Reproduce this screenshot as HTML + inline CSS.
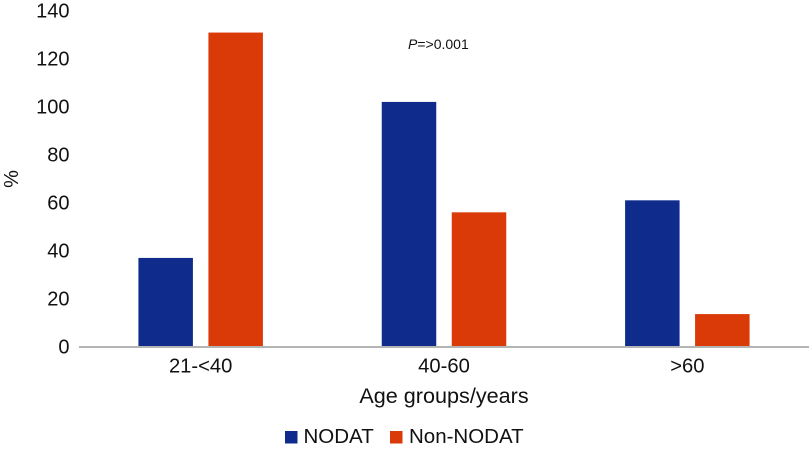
<!DOCTYPE html>
<html lang="en">
<head>
<meta charset="utf-8">
<title>NODAT by age group</title>
<style>
html,body{margin:0;padding:0;background:#fff;width:810px;height:450px;overflow:hidden}
svg{display:block}
text{font-family:"Liberation Sans",Arial,sans-serif;fill:#111}
</style>
</head>
<body>
<svg id="chart" width="810" height="450" viewBox="0 0 810 450" xmlns="http://www.w3.org/2000/svg"></svg>
<script>
const categories = ["21-<40", "40-60", ">60"];
const nodatValues = [36.7, 101.7, 60.7];
const nonNodatValues = [130.6, 55.7, 13.3];
const yTicks = [0, 20, 40, 60, 80, 100, 120, 140];
const seriesNames = ["NODAT", "Non-NODAT"];

const svg = document.getElementById('chart');
const NS = 'http://www.w3.org/2000/svg';
const plotLeft = 79, plotRight = 809, plotBase = 346, plotTop = 10, yMax = 140;
const barWidth = 54.5, barGap = 15.5;
const blue = '#0f2c8c', red = '#d93a07';

function yScale(v) { return plotBase - (v / yMax) * (plotBase - plotTop); }
function xCenter(i) { return plotLeft + (plotRight - plotLeft) * (i + 0.5) / categories.length; }
function make(tag, attrs, text) {
  const el = document.createElementNS(NS, tag);
  for (const k in attrs) el.setAttribute(k, attrs[k]);
  if (text !== undefined) el.textContent = text;
  svg.appendChild(el);
  return el;
}

yTicks.forEach(function (t) {
  const el = make('text', { x: 69.5, y: yScale(t) + 7.5, 'text-anchor': 'end', 'font-size': 20 }, String(t));
  
  
});

categories.forEach(function (c, i) {
  const cx = xCenter(i);
  const b = make('rect', {
    x: cx - barGap / 2 - barWidth, y: yScale(nodatValues[i]),
    width: barWidth, height: plotBase - yScale(nodatValues[i]), fill: blue
  });
  
  
  const r = make('rect', {
    x: cx + barGap / 2, y: yScale(nonNodatValues[i]),
    width: barWidth, height: plotBase - yScale(nonNodatValues[i]), fill: red
  });
  
  
  const l = make('text', { x: cx, y: 372.5, 'text-anchor': 'middle', 'font-size': 20.2 }, c);
  
  
});

const axis = make('line', { x1: plotLeft, x2: plotRight, y1: 347, y2: 347, stroke: '#b4b4b4', 'stroke-width': 2 });



const xTitle = make('text', { x: 444, y: 403, 'text-anchor': 'middle', 'font-size': 21.6 }, 'Age groups/years');



const yTitle = make('text', { x: 0, y: 0, 'text-anchor': 'middle', 'font-size': 20, transform: 'translate(18 179) rotate(-90)' }, '%');



const pNote = make('text', { x: 408, y: 49, 'font-size': 14 });


pNote.innerHTML = '<tspan font-style="italic">P</tspan>=&gt;0.001';

const legendSwatchX = [285, 390];
const legendTextX = [303.5, 409];
const legendColors = [blue, red];
seriesNames.forEach(function (n, i) {
  const s = make('rect', { x: legendSwatchX[i], y: 431, width: 12.5, height: 12.5, fill: legendColors[i] });
  
  
  const t = make('text', { x: legendTextX[i], y: 443, 'font-size': 20.5 }, n);
  
  
});
</script>
</body>
</html>
